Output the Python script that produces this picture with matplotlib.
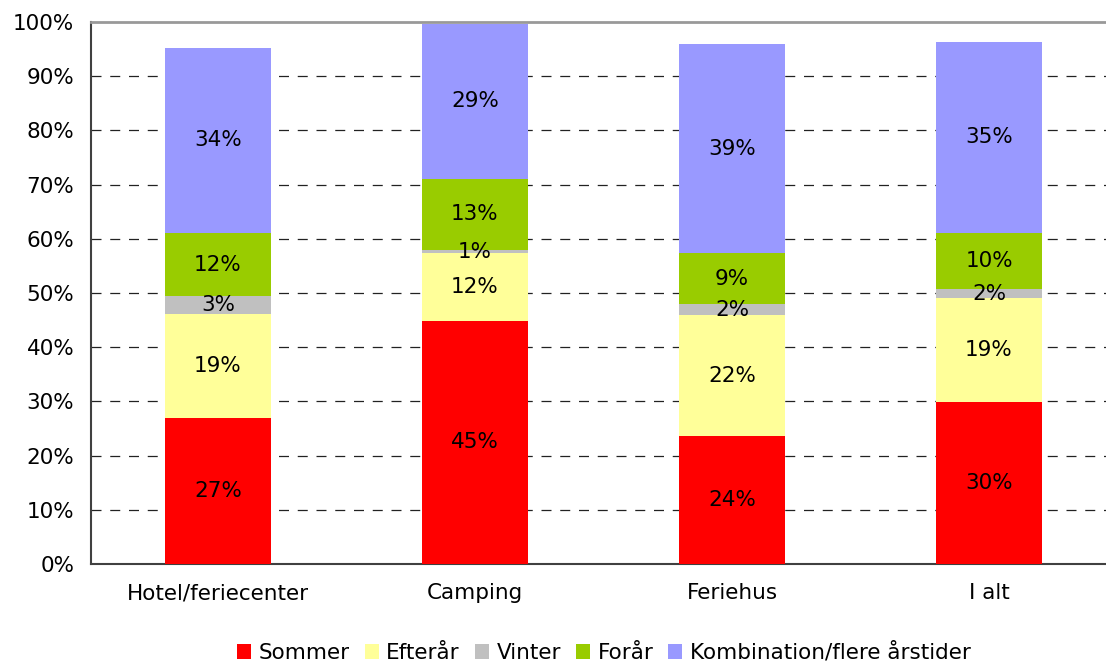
import numpy as np
import matplotlib
matplotlib.use("Agg")
import matplotlib.pyplot as plt

categories = ["Hotel/feriecenter", "Camping", "Feriehus", "I alt"]
series = ["Sommer", "Efterår", "Vinter", "Forår", "Kombination/flere årstider"]
colors = ["#FF0000", "#FFFF99", "#C0C0C0", "#99CC00", "#9999FF"]

sommer = [26.9, 44.9, 23.6, 29.8]
efteraar = [19.3, 12.45, 22.3, 19.2]
vinter = [3.2, 0.6, 2.0, 1.8]
foraar = [11.7, 13.1, 9.4, 10.3]
kombination = [34.1, 28.6, 38.6, 35.2]
values = [sommer, efteraar, vinter, foraar, kombination]

plt.rcParams["font.family"] = ["DejaVu Sans"]
fs = 15.5

fig = plt.figure(figsize=(11.06, 6.64), dpi=100)
ax = fig.add_axes([91 / 1106, 1 - 564 / 664, 1 - 91 / 1106, (564 - 22) / 664])

x = np.arange(len(categories))
bottom = np.zeros(len(categories))
for name, vals, col in zip(series, values, colors):
    vals = np.array(vals)
    ax.bar(x, vals, 0.41, bottom=bottom, color=col, label=name, zorder=3)
    for xi, b, v in zip(x, bottom, vals):
        ax.text(xi, b + v / 2, "%.0f%%" % v, ha="center", va="center",
                fontsize=fs, zorder=4)
    bottom += vals

ax.set_xlim(-0.494, 3.455)
ax.set_ylim(0, 100)
ax.set_yticks(range(0, 101, 10))
ax.set_yticklabels(["%d%%" % t for t in range(0, 101, 10)])
ax.set_xticks(x)
ax.set_xticklabels(categories)
ax.tick_params(axis="both", length=0, labelsize=fs)
ax.tick_params(axis="y", pad=12)
ax.tick_params(axis="x", pad=14)

for t in range(10, 100, 10):
    ax.axhline(t, color="#222222", lw=0.9, dashes=(8, 7), zorder=1)

ax.spines["right"].set_visible(False)
ax.spines["top"].set_color("#999999")
ax.spines["top"].set_linewidth(2)
ax.spines["left"].set_color("#404040")
ax.spines["left"].set_linewidth(1.5)
ax.spines["bottom"].set_color("#404040")
ax.spines["bottom"].set_linewidth(1.5)

fig.legend(loc="center", bbox_to_anchor=(0.546, 0.017), ncol=5, frameon=False,
           fontsize=fs, handlelength=0.65, handleheight=0.65, handletextpad=0.35,
           columnspacing=0.7)

plt.savefig("out.png")
